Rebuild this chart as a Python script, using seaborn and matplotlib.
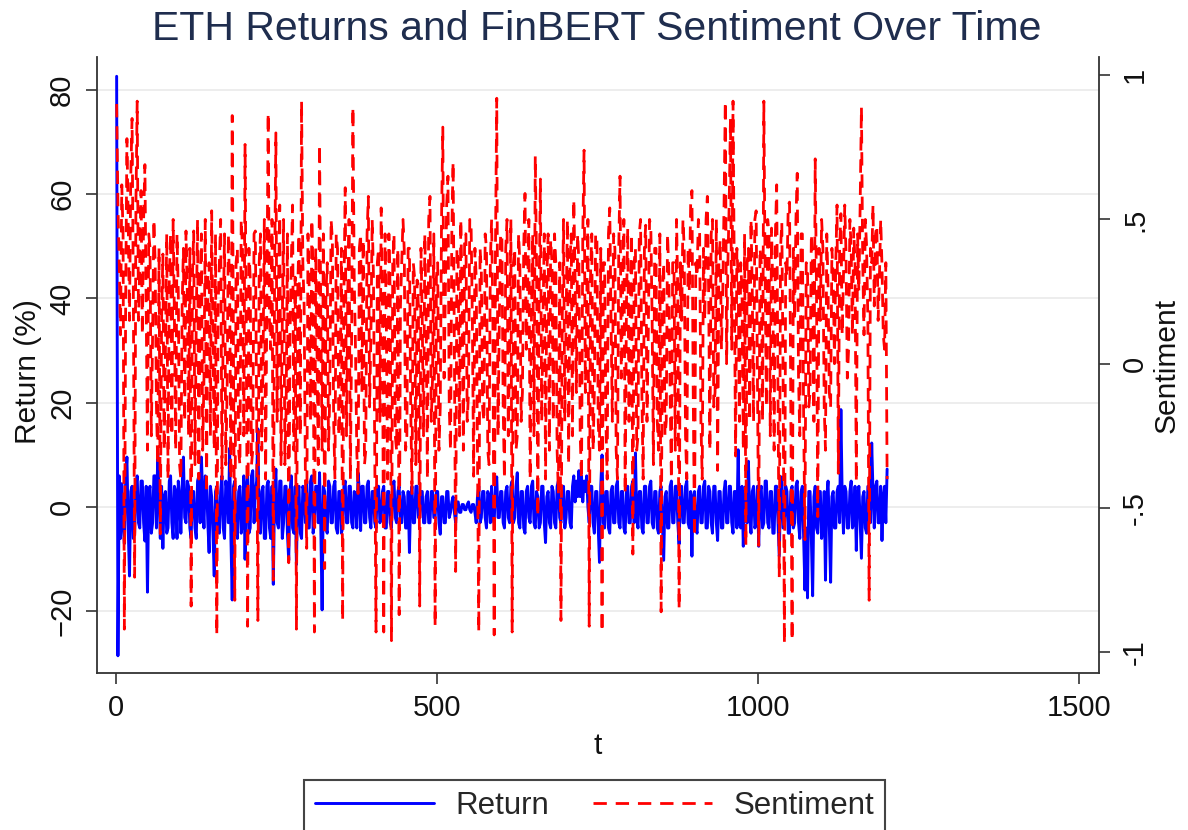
import numpy as np
import pandas as pd
import matplotlib
matplotlib.use("Agg")
import matplotlib.pyplot as plt
import seaborn as sns

TITLE = "ETH Returns and FinBERT Sentiment Over Time"
X_LABEL = "t"
LEFT_LABEL = "Return (%)"
RIGHT_LABEL = "Sentiment"
SERIES_NAMES = ["Return", "Sentiment"]
T_START = 1
T_STEP = 2
X_TICKS = [0, 500, 1000, 1500]
LEFT_TICKS = [-20, 0, 20, 40, 60, 80]
RIGHT_TICKS = [-1, -0.5, 0, 0.5, 1]
RIGHT_TICK_LABELS = ["-1", "-.5", "0", ".5", "1"]

# ETH return (%), read every 2nd period from the chart (t = 1, 3, 5, ...)
return_pct = [
    82.6, -28.5, 6, -6, 4.5, -3, -7, 5, 9.6, -4, -13.2, 3, 4, -6, -5, 4, 6, -3, -4, 5,
    5, -3, -6.5, 4, -16.3, 3, 4, -5, -3, 6, 6, -4, 10.4, 3, -6, 4, -7.9, 2, 3, -5,
    -4, 5, 6, -3, -6, 4, 3, -6, 5, 2, -5, 4, 9.6, -2, -3, 5, 4, -4, -6, 3,
    3, -4, -6, 5, 6, -3, 9.6, 2, -4, 6, 5, -3, -8.7, 4, 2, -5, -13.2, 3, 4, -4,
    -5, 3, 6, -4, -6, 5, 3, -3, 11.3, -6, -17.8, 4, 5, -4, -6, 3, 4, -5, -3, 6,
    -10, 4, 6, -5, -4, 6, 7, -3, 3, 5, 15, -4, -5, 3, 4, -6, -6, 4, 5, -4,
    -6, 4, -14.8, 3, 7.3, -3, -4, 5, 5, -6, -3, 4, 4, -5, -10.2, 3, 6, -4, -5, 4,
    -11, 3, 4, -5, -6, 4, 3, -3, 5, -4, -4, 5, 6, -5, -3, 4, 4, -3, 6.6, -4,
    -19.7, 4, 3, -4, -5, 5, 4, -3, -3, 4, 5, -4, -5, 3, 3, -5, -4, 4, 5, -3,
    -3, 4, 4, -3, -4, 3, 2, -4, 6.6, 3, -4.5, 4, 4, -3, -3, 4, 5, -2, -4, 3,
    3, -3, -4, 4, 4, -3, -2, 3, 4, -4, -4, 3, 3, -3, -4, 4, 5, -2, -3, 3,
    4, -2, -3, 3, 2, -4, -4, 3, -8.7, 2, 4, -3, -3, 4, 4, -2, -2, 3, 3, -3,
    -3, 2, 3, -3, -3, 3, 3, -2, -2, 3, 3, -3, -5.2, 2, 2, -3, -3, 3, 3, -2,
    -1, 1, 2, -1, -3, 1, 1, -1, -1, 0.5, 0.5, -0.5, -0.5, 0.5, 1, -0.5, -1, 0.5, 0.5, -1,
    -3, 2, 4, -3, -2, 3, 3, -2, -4, 3, 2, -3, 4, -2, -3, 4, 5.8, -2, -2, 3,
    3, -3, -4, 3, 4, -2, -3, 4, 5, -3, -2, 4, 6.6, -3, -4, 3, 3, -4, -5, 3,
    4, -2, -3, 4, 5, -3, -4, 3, 2, -4, -3, 4, 4, -3, -6.8, 2, 3, -3, -4, 4,
    3, -3, -4, 4, 5, -2, -3, 3, 4, -4, -2, 3, 3, -3, -4, 4, 6, 1, 5, 2,
    7, 2, 6, 1, 5, 3, 6, 0, -3, 4, 4, -3, -5, 3, 3, -4, -10.6, 4, 10, -3,
    -4, 3, 3, -4, -5, 3, 4, -3, -3, 4, 5, -3, -4, 3, 3, -4, -5, 3, 4, -3,
    -3, 4, 5, -3, 10.4, -2, -4, 3, 3, -4, -5, 4, 4, -3, -3, 4, 5, -3, -4, 3,
    3, -4, -5, 3, 4, -3, -10.2, 2, 3, -4, -4, 4, 5, -3, -3, 4, 4, -3, -7.1, 3,
    4, -3, -3, 4, 5, -3, -4, 3, -9.4, 2, 3, -4, -5, 3, 4, -3, -3, 4, 5, -4,
    -4, 4, 3, -3, -5, 4, 4, -3, -6.4, 3, 3, -4, -4, 3, 5, -3, -3, 4, 4, -3,
    -5, 3, 3, -4, 11, -3, -4, 4, -7.5, 2, 4, -3, 8.8, -2, -5, 3, 4, -4, -3, 4,
    -7.5, 3, 4, -4, -3, 5, 5, -3, -4, 3, 3, -5, -5, 4, 4, -3, -9.4, 3, 5.8, -4,
    -4, 4, 3, -5, -5, 3, 4, -4, -3, 4, 5, -3, -6, 3, 4, -6, -15.9, -4, -17.4, 3,
    3, -6, -17, 2, 4, -4, -5, 3, 3, -6, -4, 3, -14, 2, 5, -4, -14.4, 2, 3, -4,
    -4, 3, 4, -3, 18.7, 2, -5, 4, 3, -4, -4, 3, 5, -4, -3, 4, -8.3, 2, 4, -3,
    -9.8, 2, 3, -4, -5, 4, 4, -3, 12.3, 3, -4, 4, 5, -3, -3, 4, -6.4, 2, 4, -3,
    7.3,
]

# FinBERT sentiment, read at the same periods
sentiment = [
    .90, .55, .35, .10, .62, .45, -.92, .20, .78, .50, .15, .65, .85, .25, -.74, .55, .91, .15, .35, .60,
    .10, .50, .69, .20, -.30, .45, .40, -.25, .10, .50, .35, -.15, -.35, .40, -.59, .15, .38, -.30, .05, .45,
    -.40, .30, .45, -.25, .50, .15, -.30, .45, .25, -.35, -.40, .20, .40, -.20, .46, .25, -.25, .40, -.84, .30,
    .46, -.35, .15, .50, -.40, .25, .45, -.30, -.05, .50, -.45, .30, .35, -.25, .53, .05, -.30, .45, -.94, .20,
    .35, .50, -.40, .15, .45, -.35, -.10, .45, .25, -.40, .86, .05, -.82, .35, .40, -.30, -.35, .50, .40, -.25,
    .76, .05, -.91, .40, .30, -.35, -.30, .45, .46, -.15, -.89, .35, .45, -.30, .00, .50, -.40, .25, .87, .15,
    .05, .50, -.75, .30, .80, -.20, .25, .55, -.35, .15, .50, -.35, -.15, .45, -.69, .10, .35, .55, -.30, .30,
    -.92, .25, .45, -.25, .91, .35, .20, -.40, -.64, .45, .25, -.20, .50, .30, -.93, .40, .05, -.35, .76, .15,
    -.30, .45, -.71, .25, .35, -.30, -.10, .50, .43, -.20, -.40, .45, .40, -.25, -.15, .40, -.89, .25, .61, -.25,
    .25, .50, -.40, .10, .89, .30, .05, -.30, -.45, .40, .45, -.10, .43, -.35, -.30, .45, .58, -.15, .10, .50,
    .30, -.30, -.93, .35, .40, -.20, .54, .20, -.93, .45, .15, -.40, .45, .25, -.96, .35, .45, -.25, -.30, .40,
    -.87, .20, .35, .50, .39, -.30, -.25, .40, .40, -.15, -.45, .35, .30, -.35, .29, .20, -.84, .40, .15, -.25,
    .45, .15, -.40, .50, .58, -.20, -.05, .45, -.91, .30, .35, -.30, -.15, .50, .82, -.05, .25, .55, .65, -.15,
    -.30, .45, .70, .05, -.72, .40, .35, -.25, .50, .25, -.30, .45, .45, -.20, -.10, .50, .49, .15, -.39, .40,
    .30, -.30, -.93, .40, .32, -.15, -.20, .45, .40, -.30, -.35, .35, .50, .15, -.94, .40, .92, -.25, .15, .45,
    .45, -.15, -.40, .40, .50, -.25, .05, .50, -.93, .35, .40, -.30, -.25, .45, .35, -.20, -.10, .40, .59, .05,
    .25, .50, -.40, .15, .45, -.25, .72, .35, -.53, .25, .64, -.20, .15, .45, -.40, .30, .45, -.30, .43, .35,
    -.20, .45, .35, -.30, -.45, .35, -.89, .15, .50, -.20, .15, .50, -.35, .35, .45, -.25, .57, .30, -.10, .45,
    .35, -.25, -.40, .45, .74, -.10, .20, .50, -.91, .30, .45, -.30, -.10, .45, .44, -.20, -.30, .40, -.93, .35,
    .35, -.20, -.40, .45, .54, .15, -.20, .45, .40, -.30, -.40, .40, .65, -.05, .25, .50, -.45, .20, .47, -.20,
    .20, .45, -.66, .35, .40, -.30, -.25, .45, .50, -.10, -.40, .40, .48, -.20, .10, .50, .47, .15, -.35, .40,
    .40, -.20, -.30, .45, -.86, .25, .35, -.25, -.20, .45, .32, -.10, -.40, .35, .35, -.30, .50, .25, -.85, .35,
    .15, .50, .40, -.25, -.40, .40, .25, .55, .60, -.10, -.60, .35, .30, .50, .45, -.20, -.40, .40, .15, .50,
    .58, .25, -.30, .45, .50, -.15, -.10, .50, -.37, .35, .43, .05, .25, .55, .91, .00, .35, .55, .85, .05,
    .91, .30, -.32, .40, .30, -.20, .35, .25, -.30, .45, -.63, .35, .40, -.20, .50, .25, -.20, .50, .53, -.05,
    -.63, .40, .35, -.20, .91, .30, -.15, .50, .45, -.25, .47, .25, -.30, .45, .62, -.10, -.74, .40, .49, -.05,
    -.97, .35, .30, .55, .56, -.15, -.96, .40, .15, .50, .66, -.05, -.25, .45, .45, -.20, -.61, .35, .34, -.15,
    -.10, .45, .35, -.20, .71, .25, -.53, .40, .15, .50, .40, -.15, -.30, .45, .27, -.10, -.15, .40, .30, .00,
    .35, .55, -.38, .40, .52, .10, .30, .55, .38, -.05, .05, .50, .40, .10, .47, .35, -.41, .45, .25, .55,
    .89, .35, .10, .50, .41, .15, -.82, .40, .35, .55, .20, .45, .48, .15, .30, .50, .34, .10, .05, .35,
    -.40,
]

t_ret = T_START + T_STEP * np.arange(len(return_pct))
t_sent = T_START + T_STEP * np.arange(len(sentiment))
df_ret = pd.DataFrame({"t": t_ret, "value": return_pct})
df_sent = pd.DataFrame({"t": t_sent, "value": sentiment})

sns.set_style("white")
plt.rcParams["font.family"] = ["Liberation Sans", "DejaVu Sans"]

W, H = 1188, 830
fig = plt.figure(figsize=(W / 100, H / 100), dpi=100)
ax = fig.add_axes([97 / W, 1 - 673 / H, (1099 - 97) / W, (673 - 57) / H])
ax2 = ax.twinx()

sns.lineplot(data=df_ret, x="t", y="value", ax=ax, color="#0000ff", lw=2.1,
             label=SERIES_NAMES[0], estimator=None, sort=False)
sns.lineplot(data=df_sent, x="t", y="value", ax=ax2, color="#ff0000", lw=2.0,
             linestyle=(0, (4.8, 3.2)), label=SERIES_NAMES[1], estimator=None, sort=False)

ax.set_xlim(-29.6, 1531)
ax.set_ylim(-31.8, 86.3)
ax2.set_ylim(-1.072, 1.063)

axis_col = "#333333"
ax.set_xticks(X_TICKS)
ax.set_yticks(LEFT_TICKS)
ax2.set_yticks(RIGHT_TICKS)
ax2.set_yticklabels(RIGHT_TICK_LABELS)

for a in (ax, ax2):
    a.spines["top"].set_visible(False)
    for s in a.spines.values():
        s.set_color(axis_col)
        s.set_linewidth(1.3)
ax.spines["right"].set_visible(False)
ax2.spines["left"].set_visible(False)
ax2.spines["bottom"].set_visible(False)

ax.tick_params(axis="both", direction="out", length=8, width=1.2, color=axis_col,
               labelsize=21, labelcolor="#111111", pad=7, left=True, bottom=True)
ax2.tick_params(axis="y", direction="out", length=8, width=1.2, color=axis_col,
                labelsize=21, labelcolor="#111111", pad=8, right=True)
plt.setp(ax.get_yticklabels(), rotation=90, va="center")
plt.setp(ax2.get_yticklabels(), rotation=90, va="center")

ax.grid(axis="y", color="#eaeaea", lw=1.2)
ax.grid(axis="x", visible=False)
ax.set_axisbelow(True)

ax.set_xlabel(X_LABEL, fontsize=21.5, color="#111111")
ax.xaxis.label.set_va("center")
ax.xaxis.set_label_coords(0.4995, -0.1185)
ax.set_ylabel(LEFT_LABEL, fontsize=21.5, color="#111111")
ax.yaxis.label.set_va("center")
ax.yaxis.set_label_coords(-0.069, 0.49)
ax2.set_ylabel(RIGHT_LABEL, fontsize=21.5, color="#111111", rotation=90)
ax2.yaxis.label.set_va("center")
ax2.yaxis.set_label_coords(1.067, 0.50)

fig.suptitle(TITLE, x=597 / W, y=1 - 29 / H, va="center", fontsize=29.5, color="#1f2d4e")

h1, l1 = ax.get_legend_handles_labels()
h2, l2 = ax2.get_legend_handles_labels()
for a in (ax, ax2):
    if a.get_legend() is not None:
        a.get_legend().remove()
leg = fig.legend(h1 + h2, l1 + l2, loc="upper center", bbox_to_anchor=(594.5 / W, 1 - 780 / H),
                 ncol=2, fontsize=22.5, frameon=True, fancybox=False, shadow=False,
                 handlelength=3.8, handletextpad=0.7, columnspacing=1.4, borderpad=0.35,
                 borderaxespad=0)
leg.get_frame().set_edgecolor("#444444")
leg.get_frame().set_linewidth(1.5)
leg.get_frame().set_alpha(1)

fig.savefig("out.png", dpi=100)
